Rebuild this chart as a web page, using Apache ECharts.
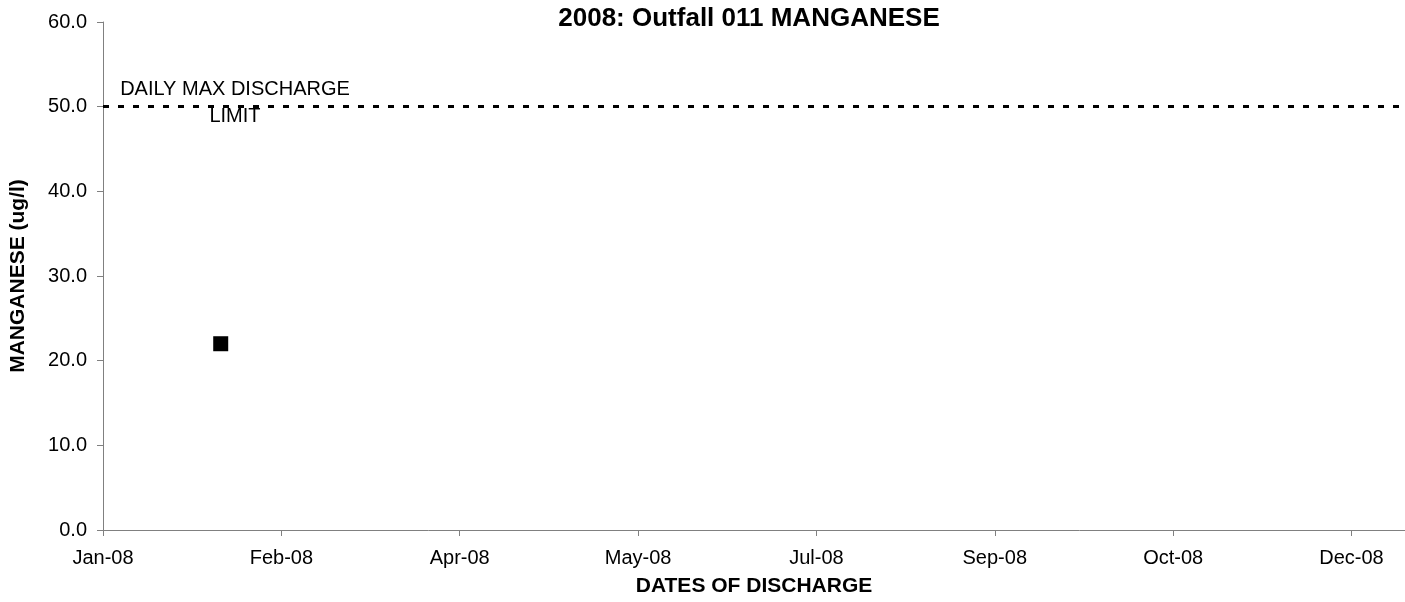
<!DOCTYPE html>
<html>
<head>
<meta charset="utf-8">
<script src="https://cdn.jsdelivr.net/npm/echarts@6/dist/echarts.min.js"></script>
<style>
html,body{margin:0;padding:0;background:#fff;overflow:hidden;}
#chart{width:100vw;height:100vh;}
</style>
</head>
<body>
<div id="chart"></div>
<script>
// ---- data ----
const axisStartDate = '2008-01-01';
const axisEndDate = '2008-12-31';
const tickIntervalDays = 50;
const sampleDates = ['2008-02-03'];
const manganeseValues = [22.0];
const limitValue = [50];
const limitLabelDate = ['2008-02-07'];
const limitLabelText = ['DAILY MAX DISCHARGE\nLIMIT'];
const yTicks = [0, 10, 20, 30, 40, 50, 60];
const monthNames = ['Jan','Feb','Mar','Apr','May','Jun','Jul','Aug','Sep','Oct','Nov','Dec'];

const DAY = 86400000;
const t0 = Date.parse(axisStartDate + 'T00:00:00Z');
const dayOf = s => Math.round((Date.parse(s + 'T00:00:00Z') - t0) / DAY);
const fmtDate = d => {
  const dt = new Date(t0 + d * DAY);
  return monthNames[dt.getUTCMonth()] + '-' + String(dt.getUTCFullYear()).slice(2);
};

const points = sampleDates.map((s, i) => [dayOf(s), manganeseValues[i]]);

const chart = echarts.init(document.getElementById('chart'));
const font = 'Liberation Sans, Arial, sans-serif';
chart.setOption({
  animation: false,
  backgroundColor: '#ffffff',
  title: {
    text: '2008: Outfall 011 MANGANESE',
    left: 744, top: 1, textAlign: 'center',
    textStyle: { fontFamily: font, fontSize: 26, fontWeight: 'bold', color: '#000' }
  },
  grid: { left: 99, top: 22, bottom: 65, right: -6, containLabel: false },
  xAxis: {
    type: 'value',
    min: 0,
    max: dayOf(axisEndDate),
    interval: tickIntervalDays,
    name: 'DATES OF DISCHARGE',
    nameLocation: 'middle',
    nameGap: 46,
    nameTextStyle: { fontFamily: font, fontSize: 21, fontWeight: 'bold', color: '#000' },
    axisLine: { show: true, lineStyle: { color: '#808080', width: 1 } },
    axisTick: { show: true, length: 6, lineStyle: { color: '#808080' } },
    axisLabel: { formatter: v => fmtDate(v), fontFamily: font, fontSize: 20, color: '#000', margin: 18, showMaxLabel: false },
    splitLine: { show: false }
  },
  yAxis: {
    type: 'value',
    min: yTicks[0],
    max: yTicks[yTicks.length - 1],
    interval: yTicks[1] - yTicks[0],
    name: 'MANGANESE (ug/l)',
    nameLocation: 'middle',
    nameGap: 74,
    nameTextStyle: { fontFamily: font, fontSize: 21, fontWeight: 'bold', color: '#000' },
    axisLine: { show: true, lineStyle: { color: '#808080', width: 1 } },
    axisTick: { show: true, length: 6, lineStyle: { color: '#808080' } },
    axisLabel: { formatter: v => v.toFixed(1), fontFamily: font, fontSize: 20, color: '#000', margin: 16 },
    splitLine: { show: false }
  },
  series: [{
    type: 'scatter',
    data: points,
    symbol: 'rect',
    symbolSize: 15,
    itemStyle: { color: '#000', opacity: 1 },
    markLine: {
      silent: true,
      symbol: ['none', 'none'],
      label: { show: false },
      lineStyle: { color: '#000', width: 3, type: [6, 9] },
      data: [{ yAxis: limitValue[0] }]
    },
    markPoint: {
      silent: true,
      symbol: 'circle',
      symbolSize: 0,
      data: [{ coord: [dayOf(limitLabelDate[0]), limitValue[0]] }],
      label: {
        show: true,
        position: 'inside',
        formatter: limitLabelText[0],
        fontFamily: font, fontSize: 20, color: '#000',
        align: 'center', lineHeight: 27, offset: [0, -4]
      }
    }
  }]
});
</script>
</body>
</html>
